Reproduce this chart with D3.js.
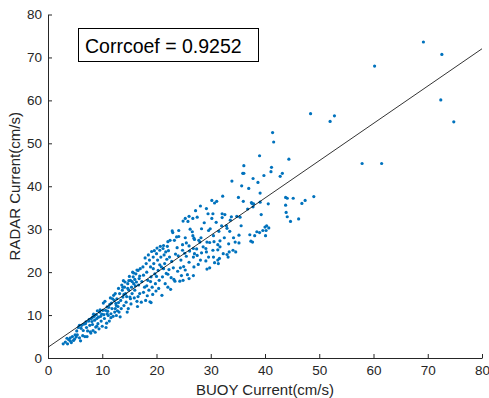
<!DOCTYPE html>
<html>
<head>
<meta charset="utf-8">
<script src="https://cdn.jsdelivr.net/npm/d3@7"></script>
<style>
  body { margin: 0; background: #fff; }
  svg { font-family: "Liberation Sans", Arial, sans-serif; }
</style>
</head>
<body>
<div id="chart"></div>
<script>
// ticks and fit
const xTicks = [0, 10, 20, 30, 40, 50, 60, 70, 80];
const yTicks = [0, 10, 20, 30, 40, 50, 60, 70, 80];
const fit = { intercept: 2.5, slope: 0.869 };
const corrLabel = "Corrcoef = 0.9252";

// [buoy, radar] pairs, cm/s
const lowGroup = [
  [2.8,3.3],[3.2,3.7],[3.6,3.3],[3.8,4.3],[4.1,4.7],[4.1,4.0],[4.5,5.0],[4.7,4.1],[5.0,5.4],[5.2,4.9],
  [5.4,5.4],[5.8,4.7],[6.0,4.0],[4.3,3.6],[3.5,4.6],[5.6,7.1],[5.8,7.6],[6.2,7.6],[6.1,6.9],[6.5,6.4],
  [6.8,5.0],[6.9,8.0],[7.1,7.1],[7.3,6.3],[7.2,5.0],[7.5,8.6],[7.7,7.6],[7.8,6.1],[8.0,9.2],[8.2,7.8],
  [8.3,6.4],[8.5,9.7],[8.6,8.8],[8.8,7.2],[8.9,10.1],[9.0,9.2],[9.2,8.0],[9.4,6.8],[9.5,10.7],[9.7,9.7],
  [9.8,8.6],[10.0,7.4],[7.9,5.8],[8.1,8.5],[6.6,7.9],[7.0,8.4],[8.4,10.2],[9.1,11.0],[9.6,11.2],[9.3,9.5],
  [8.7,6.0],[9.9,10.2],[6.4,5.2],[5.3,6.3],[4.9,4.4],[7.6,9.0],[8.2,9.5],[9.0,7.4]
];
const groupTen = [
  [10.1,11.1],[10.3,10.1],[10.4,9.2],[10.6,11.1],[10.8,8.1],[10.9,11.9],[11.1,9.9],[11.4,12.5],[11.6,10.3],[11.7,12.8],
  [11.8,11.5],[12.0,9.7],[12.2,13.4],[12.3,10.7],[12.5,12.7],[12.6,9.9],[12.7,13.8],[12.9,12.0],[13.1,10.7],[13.2,15.0],
  [13.4,13.4],[13.5,11.5],[13.7,15.8],[13.8,14.2],[14.0,12.2],[14.1,16.5],[14.3,15.0],[14.4,13.0],[14.6,10.7],[14.7,17.3],
  [14.9,15.8],[15.1,14.2],[15.2,18.1],[15.4,16.5],[15.5,15.0],[15.7,18.9],[15.8,17.3],[16.0,15.8],[16.2,19.6],[16.3,17.7],
  [16.4,13.2],[16.6,20.4],[16.8,18.5],[16.9,15.0],[10.2,12.8],[10.5,13.2],[10.7,7.1],[11.0,10.9],[11.3,8.6],[11.5,14.0],
  [11.9,13.8],[12.1,14.6],[12.4,15.0],[12.8,11.0],[13.0,16.2],[13.3,9.6],[13.6,17.0],[13.9,18.0],[14.2,17.7],[14.5,14.3],
  [14.8,11.5],[15.0,19.0],[15.3,12.6],[15.6,20.0],[15.9,14.0],[16.1,16.8],[16.5,12.0],[16.7,17.0],[15.2,13.8],[14.0,14.8],
  [12.6,12.2],[11.2,11.8],[10.9,10.3],[13.0,12.9],[14.7,16.2],[16.0,18.3],[16.4,20.5],[15.8,19.8],[15.5,17.8],[14.9,18.0],
  [13.8,16.5],[12.4,11.5],[11.6,9.4],[16.9,19.1],[16.6,14.3]
];
const groupTwenty = [
  [17.5,21.2],[17.6,19.3],[17.8,16.5],[18.0,13.4],[18.1,22.0],[18.2,20.0],[18.4,18.1],[18.6,15.8],[18.7,22.8],[18.9,21.2],
  [19.0,18.9],[19.2,16.5],[19.4,23.5],[19.5,22.0],[19.7,19.6],[19.8,17.3],[20.0,24.3],[20.2,22.8],[20.3,20.4],[20.5,18.1],
  [20.6,25.1],[20.8,23.5],[20.9,21.2],[21.1,18.9],[21.2,25.5],[21.4,24.0],[21.5,22.0],[21.8,19.7],[22.1,16.5],[17.2,13.0],
  [17.3,17.8],[17.0,20.8],[17.9,23.3],[18.3,14.5],[18.5,24.0],[18.8,13.1],[19.1,24.8],[19.3,14.8],[19.6,25.0],[19.9,15.6],
  [20.1,25.6],[20.4,16.2],[20.7,26.0],[21.0,14.6],[21.3,26.2],[21.6,17.3],[21.9,23.0],[22.0,26.0],[22.3,20.6],[22.5,27.4],
  [22.6,16.0],[22.8,22.5],[22.9,29.6],[23.0,29.2],[23.2,18.3],[23.3,27.4],[23.4,17.9],[23.5,24.2],[23.7,28.2],[23.8,25.7],
  [24.1,29.7],[24.1,28.3],[24.3,17.9],[24.5,22.8],[24.8,26.4],[24.8,25.1],[24.9,18.1],[24.9,31.9],[22.1,19.5],[22.1,27.1],
  [22.4,23.5],[22.7,18.7],[23.1,21.0],[23.9,20.2],[24.0,23.8],[24.4,21.0],[24.6,19.2],[20.0,19.0],[19.4,20.8],[18.9,17.8],
  [20.6,21.7],[21.3,20.8],[21.7,24.7],[22.2,25.0],[17.6,15.3],[18.2,16.8],[19.0,12.9]
];
const groupThirty = [
  [25.3,32.5],[26.0,33.0],[26.7,32.5],[27.2,34.3],[28.1,35.4],[29.2,34.8],[30.2,36.7],[31.1,36.5],[30.7,36.1],[32.2,37.7],
  [30.4,33.6],[29.5,33.6],[32.1,33.6],[32.6,33.4],[32.1,32.7],[30.2,32.5],[32.9,30.8],[33.0,30.2],[29.9,30.1],[28.3,30.1],
  [29.6,29.7],[26.6,29.4],[26.7,28.5],[26.9,27.9],[27.0,27.6],[27.8,27.4],[28.2,28.0],[25.3,28.0],[25.5,26.8],[26.0,26.1],
  [26.1,24.9],[26.8,25.5],[27.4,25.4],[28.6,25.9],[29.1,25.5],[29.3,27.0],[29.8,26.9],[30.6,27.1],[31.3,26.4],[31.7,25.9],
  [31.7,27.3],[33.3,26.6],[30.4,25.1],[31.3,25.2],[29.2,24.7],[28.3,24.5],[27.0,24.3],[25.2,24.4],[25.5,23.7],[26.8,23.5],
  [27.5,23.9],[28.1,22.8],[29.1,22.6],[29.6,23.5],[30.5,23.5],[31.3,22.8],[31.6,23.2],[30.7,22.2],[31.4,22.0],[32.3,24.3],
  [33.0,24.1],[29.8,21.0],[29.3,20.7],[27.7,21.8],[26.9,21.2],[26.0,22.3],[25.0,21.3],[25.7,19.4],[26.8,19.2],[26.0,18.5],
  [25.3,20.5],[32.5,28.0],[31.5,29.5],[30.5,28.5],[28.8,31.5],[27.5,32.8],[26.2,30.0],[25.8,31.8],[28.0,27.0],[33.9,41.2],
  [34.1,25.1],[34.6,24.7],[33.4,24.7],[33.2,23.5],[34.8,33.0],[33.8,32.9],[33.6,32.1],[34.2,28.0],[33.5,29.5],[32.0,30.8],
  [31.0,31.6],[34.5,27.0]
];
const groupForty = [
  [35.1,37.4],[35.7,40.1],[35.9,43.0],[36.1,43.0],[36.1,44.8],[37.0,39.5],[37.8,41.8],[38.7,40.9],[39.0,47.1],[39.8,42.5],
  [41.4,52.5],[41.6,50.3],[44.4,46.3],[41.2,44.4],[41.1,43.4],[43.2,43.0],[42.8,42.3],[43.8,37.4],[44.1,37.2],[45.2,37.2],
  [49.0,37.6],[47.4,36.7],[46.8,36.0],[43.8,35.6],[43.9,33.9],[44.1,32.9],[44.7,31.8],[46.2,32.4],[37.5,36.2],[37.6,36.0],
  [37.9,35.9],[39.1,36.3],[40.6,35.9],[36.8,34.7],[37.8,35.2],[39.3,33.4],[35.6,30.8],[40.0,30.5],[40.3,30.8],[40.7,30.3],
  [39.6,29.7],[40.2,29.7],[40.1,28.5],[38.5,29.4],[39.0,29.2],[38.1,28.5],[37.2,28.7],[35.2,28.6],[37.4,27.2],[37.7,27.0],
  [35.2,26.8],[39.1,38.4],[36.0,36.5],[35.4,32.8]
];
const highGroup = [
  [48.4,56.9],[52.0,55.1],[52.8,56.4],[57.9,45.3],[61.5,45.3],[60.2,68.0],[69.2,73.6],[72.6,70.7],[72.4,60.1],[74.8,55.0]
];

const points = [].concat(lowGroup, groupTen, groupTwenty, groupThirty, groupForty, highGroup);

const width = 489, height = 398;
const margin = { top: 14.5, right: 7, bottom: 40, left: 48 };
const ink = "#262626";

const svg = d3.select("#chart").append("svg")
  .attr("width", width)
  .attr("height", height);

const x = d3.scaleLinear().domain([0, 80]).range([margin.left, width - margin.right]);
const y = d3.scaleLinear().domain([0, 80]).range([height - margin.bottom, margin.top]);

// axes, ticks pointing inward like matlab
const xAxis = svg.append("g")
  .attr("transform", `translate(0,${height - margin.bottom})`)
  .call(d3.axisBottom(x).tickValues(xTicks).tickSizeInner(-4).tickSizeOuter(0).tickPadding(7));
const yAxis = svg.append("g")
  .attr("transform", `translate(${margin.left},0)`)
  .call(d3.axisLeft(y).tickValues(yTicks).tickSizeInner(-4).tickSizeOuter(0).tickPadding(6));

[xAxis, yAxis].forEach(g => {
  g.select(".domain").attr("stroke", ink).attr("stroke-width", 1);
  g.selectAll(".tick line").attr("stroke", ink);
  g.selectAll(".tick text").attr("fill", ink).style("font-size", "13.5px");
});

// points
svg.append("g")
  .attr("fill", "#0072BD")
  .selectAll("circle")
  .data(points)
  .join("circle")
  .attr("cx", d => x(d[0]))
  .attr("cy", d => y(d[1]))
  .attr("r", 1.6);

// fitted line
svg.append("line")
  .attr("x1", x(0)).attr("y1", y(fit.intercept))
  .attr("x2", x(80)).attr("y2", y(fit.intercept + fit.slope * 80))
  .attr("stroke", "#000")
  .attr("stroke-width", 0.8);

// annotation box
svg.append("rect")
  .attr("x", 78.5).attr("y", 28.5)
  .attr("width", 180).attr("height", 33)
  .attr("fill", "#fff")
  .attr("stroke", "#000")
  .attr("stroke-width", 1);
svg.append("text")
  .attr("x", 85).attr("y", 53)
  .attr("fill", "#000")
  .style("font-size", "19.5px")
  .text(corrLabel);

// axis labels
svg.append("text")
  .attr("x", x(40)).attr("y", 395)
  .attr("text-anchor", "middle")
  .attr("fill", ink)
  .style("font-size", "15px")
  .text("BUOY Current(cm/s)");
svg.append("text")
  .attr("transform", `translate(20,${y(40)}) rotate(-90)`)
  .attr("text-anchor", "middle")
  .attr("fill", ink)
  .style("font-size", "15px")
  .text("RADAR Current(cm/s)");
</script>
</body>
</html>
